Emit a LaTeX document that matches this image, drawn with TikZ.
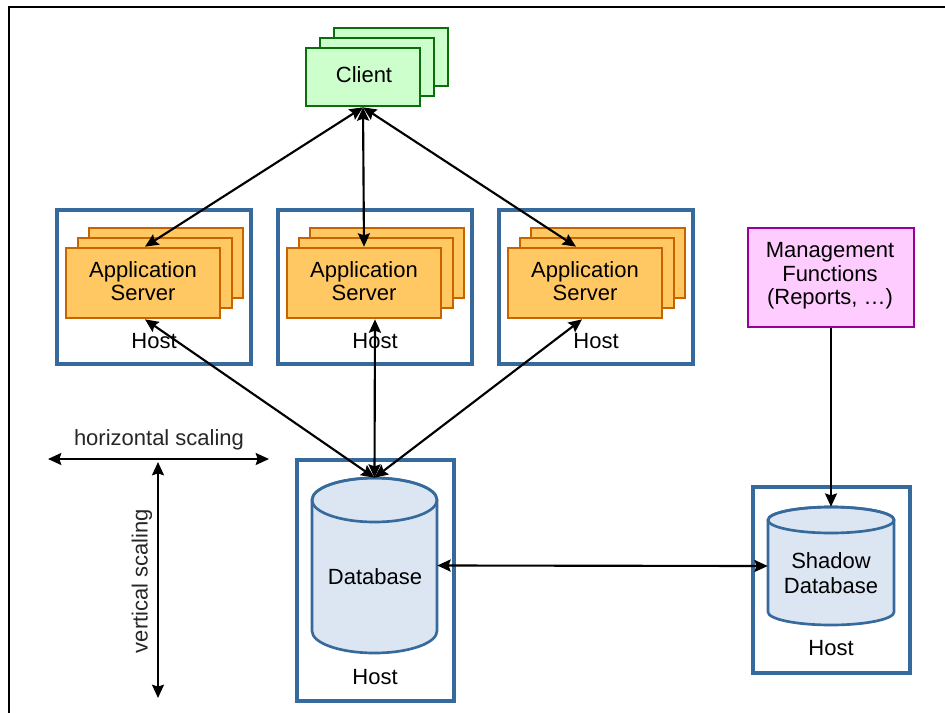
\documentclass[tikz,border=0pt]{standalone}
\usepackage{fontspec}
\setmainfont{Liberation Sans}
\usetikzlibrary{arrows.meta,calc}
\definecolor{hostblue}{HTML}{376A9C}
\definecolor{cylfill}{HTML}{DBE6F2}
\definecolor{asfill}{HTML}{FFC862}
\definecolor{asborder}{HTML}{C86400}
\definecolor{clfill}{HTML}{CCFFCC}
\definecolor{clborder}{HTML}{0A6E0A}
\definecolor{mgfill}{HTML}{FFCCFF}
\definecolor{mgborder}{HTML}{990099}
\tikzset{
  txt/.style={font=\fontsize{16.5}{18}\selectfont, text=black, align=center},
  hostbox/.style={draw=hostblue, line width=2.4pt, fill=white, inner sep=0pt},
  asbox/.style={draw=asborder, line width=2pt, fill=asfill, minimum width=115.5pt, minimum height=52.5pt, inner sep=0pt},
  clbox/.style={draw=clborder, line width=2pt, fill=clfill, minimum width=85.5pt, minimum height=43.5pt, inner sep=0pt},
  mgbox/.style={draw=mgborder, line width=2pt, fill=mgfill, minimum width=124.5pt, minimum height=74.25pt, inner sep=0pt},
  cylline/.style={draw=hostblue, line width=2pt, fill=cylfill},
  conn/.style={line width=1.6pt, {Stealth[length=10pt,width=9pt,inset=1.5pt]}-{Stealth[length=10pt,width=9pt,inset=1.5pt]}},
  conn1/.style={line width=1.6pt, -{Stealth[length=10pt,width=9pt,inset=1.5pt]}},
}
\begin{document}
\begin{tikzpicture}[x=0.75pt,y=-0.75pt]
\useasboundingbox (0,0) rectangle (945,713);
% frame
\draw[line width=1pt] (9,713) -- (9,7) -- (945,7);

% hosts (app servers)
\foreach \i/\dx in {1/0,2/221,3/442}{
  \node[hostbox, minimum width=145.5pt, minimum height=115.5pt] (host\i) at (154+\dx,287) {};
  \node[txt] (hostlbl\i) at (154+\dx,341) {Host};
  \node[asbox] (asb\i) at (143+23+\dx,263) {};
  \node[asbox] (asm\i) at (143+12+\dx,273) {};
  \node[asbox] (as\i) at (143+\dx,283) {};
  \node[txt] (astxt\i) at (143+\dx,281) {Application\\[-1pt]Server};
}

% client
\node[clbox] (clb) at (363+28,77-20) {};
\node[clbox] (clm) at (363+14,77-10) {};
\node[clbox] (client) at (363,77) {};
\node[txt] (cltxt) at (364,75) {Client};

% management
\node[mgbox] (mgmt) at (831,277.5) {};
\node[txt, font=\fontsize{16.5}{17.5}\selectfont] (mgtxt) at (830,276) {Management\\Functions\\(Reports, …)};

% database host
\node[hostbox, minimum width=117.75pt, minimum height=180.75pt] (dbhost) at (375.5,580.5) {};
\node[txt] (dbhostlbl) at (375,677) {Host};
% database cylinder
\path[cylline] (312,500) -- (312,631) arc[start angle=180,end angle=360,x radius=46.875pt,y radius=16.5pt] -- (437,500) arc[start angle=0,end angle=180,x radius=46.875pt,y radius=16.5pt] -- cycle;
\draw[draw=hostblue, line width=2pt] (374.5,500) ellipse[x radius=46.875pt,y radius=16.5pt];
\node[inner sep=0pt, minimum width=93.75pt, minimum height=131.25pt] (db) at (374.5,565.5) {};
\node[txt] (dbtxt) at (375,577) {Database};

% shadow host
\node[hostbox, minimum width=117.75pt, minimum height=139.5pt] (shhost) at (831.5,580) {};
\node[txt] (shhostlbl) at (831,648) {Host};
\path[cylline] (768,520) -- (768,612) arc[start angle=180,end angle=360,x radius=47.25pt,y radius=9.75pt] -- (894,520) arc[start angle=0,end angle=180,x radius=47.25pt,y radius=9.75pt] -- cycle;
\draw[draw=hostblue, line width=2pt] (831,520) ellipse[x radius=47.25pt,y radius=9.75pt];
\node[inner sep=0pt, minimum width=94.5pt, minimum height=88.5pt] (shadow) at (831,566) {};
\node[txt] (shtxt) at (831,573) {Shadow\\[1pt]Database};

% connectors
\draw[conn] (client.south) -- ([xshift=1.5pt]as1.north);
\draw[conn] (client.south) -- (as2.north);
\draw[conn] (client.south) -- ([xshift=-6.75pt]as3.north);
\draw[conn] ([xshift=1.5pt]as1.south) -- (db.north);
\draw[conn] ([xshift=8.25pt]as2.south) -- (db.north);
\draw[conn] ([xshift=-2.25pt]as3.south) -- (db.north);
\draw[conn] (db.east) -- (shadow.west);
\draw[conn1] (mgmt.south) -- (shadow.north);

% scaling arrows
\coordinate (hl) at (48,459);
\coordinate (hr) at (269,459);
\coordinate (vt) at (158,462);
\coordinate (vb) at (158,698);
\draw[conn] (hl) -- (hr);
\draw[conn] (vt) -- (vb);
\node[txt, text=black!85] (htxt) at (159,440) {horizontal scaling};
\node[txt, rotate=90, text=black!85] (vtxt) at (142,581) {vertical scaling};
\end{tikzpicture}
\end{document}
